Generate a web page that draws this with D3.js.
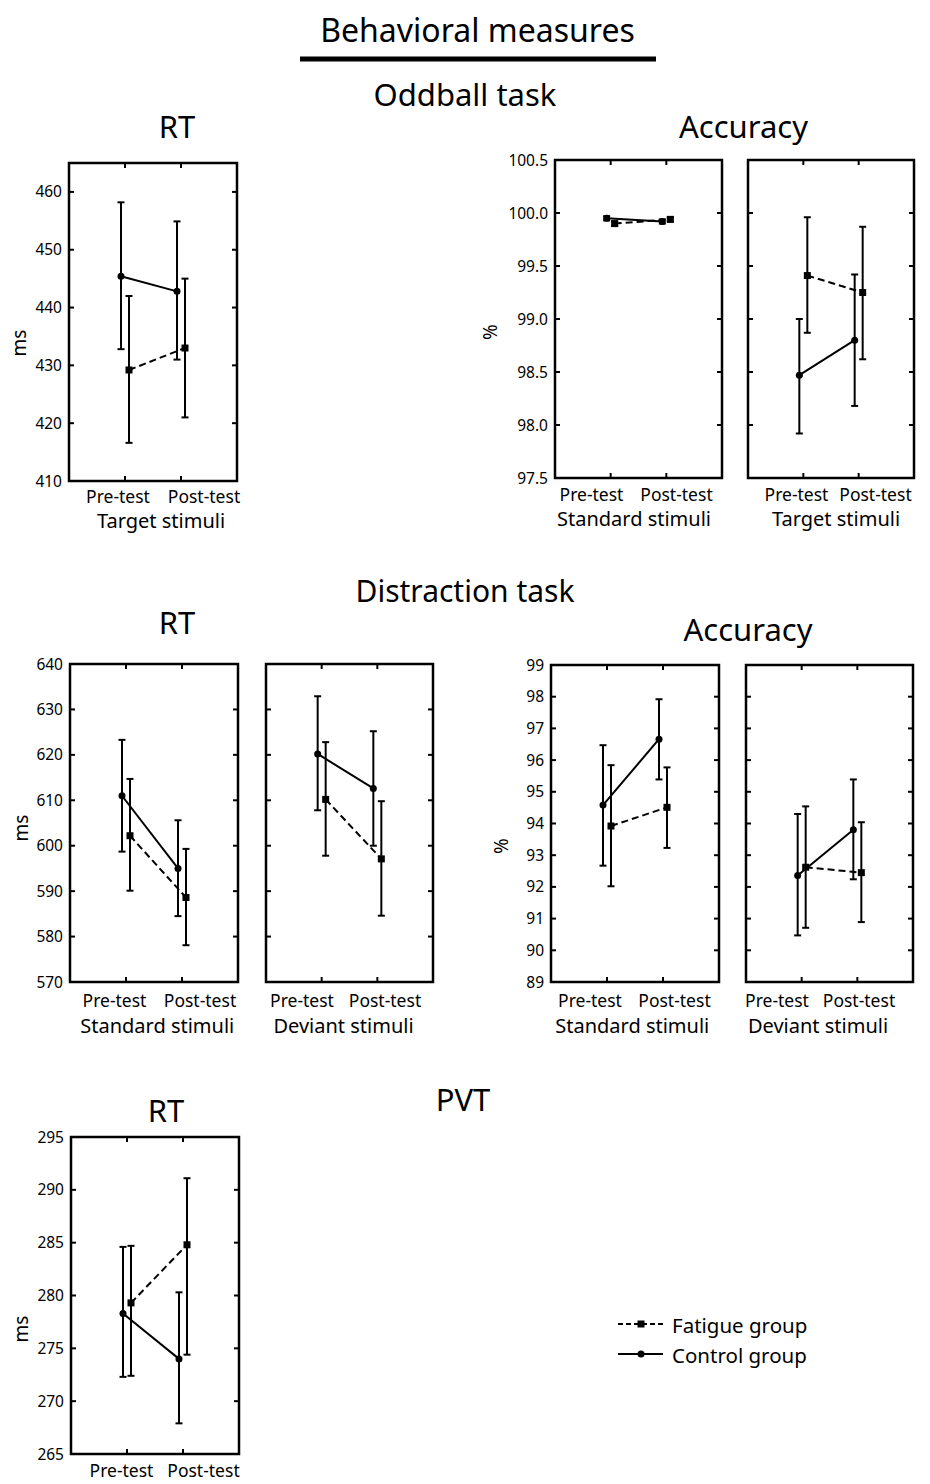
<!DOCTYPE html>
<html>
<head>
<meta charset="utf-8">
<script src="https://cdn.jsdelivr.net/npm/d3@7"></script>
<style>
  body { margin: 0; background: #fff; }
  text { font-family: "Noto Sans", sans-serif; fill: #000; }
</style>
</head>
<body>
<script>
const conditions = ["Pre-test", "Post-test"];
const groupNames = ["Fatigue group", "Control group"];

// each entry: [mean, lower bar, upper bar] for Pre-test then Post-test
const oddRtTargetFatigue = [[429.2, 416.6, 442.0], [433.0, 421.0, 445.0]];
const oddRtTargetControl = [[445.4, 432.8, 458.2], [442.8, 431.0, 454.9]];
const oddAccStandardFatigue = [[99.90, 99.88, 99.92], [99.94, 99.92, 99.96]];
const oddAccStandardControl = [[99.95, 99.93, 99.97], [99.92, 99.90, 99.94]];
const oddAccTargetFatigue = [[99.41, 98.87, 99.96], [99.25, 98.62, 99.87]];
const oddAccTargetControl = [[98.47, 97.92, 99.00], [98.80, 98.18, 99.42]];
const disRtStandardFatigue = [[602.2, 590.1, 614.7], [588.6, 578.1, 599.3]];
const disRtStandardControl = [[611.0, 598.7, 623.3], [595.0, 584.5, 605.6]];
const disRtDeviantFatigue = [[610.2, 597.8, 622.8], [597.1, 584.6, 609.8]];
const disRtDeviantControl = [[620.2, 607.8, 632.9], [612.6, 600.0, 625.2]];
const disAccStandardFatigue = [[93.92, 92.02, 95.84], [94.51, 93.23, 95.77]];
const disAccStandardControl = [[94.58, 92.67, 96.47], [96.66, 95.39, 97.92]];
const disAccDeviantFatigue = [[92.62, 90.71, 94.54], [92.45, 90.89, 94.04]];
const disAccDeviantControl = [[92.36, 90.47, 94.30], [93.80, 92.24, 95.39]];
const pvtRtFatigue = [[279.3, 272.4, 284.7], [284.8, 274.4, 291.1]];
const pvtRtControl = [[278.3, 272.3, 284.6], [274.0, 267.9, 280.3]];

const oddRtDomain = [410, 465];
const oddRtTicks = [410, 420, 430, 440, 450, 460];
const oddAccDomain = [97.5, 100.5];
const oddAccTicks = [97.5, 98.0, 98.5, 99.0, 99.5, 100.0, 100.5];
const disRtDomain = [570, 640];
const disRtTicks = [570, 580, 590, 600, 610, 620, 630, 640];
const disAccDomain = [89, 99];
const disAccTicks = [89, 90, 91, 92, 93, 94, 95, 96, 97, 98, 99];
const pvtRtDomain = [265, 295];
const pvtRtTicks = [265, 270, 275, 280, 285, 290, 295];

const W = 930, H = 1484;
const svg = d3.select("body").append("svg")
  .attr("width", W)
  .attr("height", H);

const fInt = d3.format("d"), fDec = d3.format(".1f");

const panels = [
  {x: 69, y: 163, w: 168, h: 318, domain: oddRtDomain, ticks: oddRtTicks, fmt: fInt,
   fatigue: oddRtTargetFatigue, control: oddRtTargetControl, labels: true,
   name: "Target stimuli", lx: [49, 135], ty: 22, gy: 47, unit: "ms", ux: 19, uy: 343},
  {x: 555, y: 160, w: 167, h: 318, domain: oddAccDomain, ticks: oddAccTicks, fmt: fDec,
   fatigue: oddAccStandardFatigue, control: oddAccStandardControl, labels: true,
   name: "Standard stimuli", lx: [36.5, 121.5], ty: 23, gy: 48, unit: "%", ux: 490, uy: 332},
  {x: 748, y: 160, w: 166, h: 318, domain: oddAccDomain, ticks: oddAccTicks, fmt: fDec,
   fatigue: oddAccTargetFatigue, control: oddAccTargetControl, labels: false,
   name: "Target stimuli", lx: [48.5, 127.5], ty: 23, gy: 48},
  {x: 70, y: 664, w: 168, h: 318, domain: disRtDomain, ticks: disRtTicks, fmt: fInt,
   fatigue: disRtStandardFatigue, control: disRtStandardControl, labels: true,
   name: "Standard stimuli", lx: [44.5, 130], ty: 24.5, gy: 51, unit: "ms", ux: 21, uy: 828},
  {x: 266, y: 664, w: 167, h: 318, domain: disRtDomain, ticks: disRtTicks, fmt: fInt,
   fatigue: disRtDeviantFatigue, control: disRtDeviantControl, labels: false,
   name: "Deviant stimuli", lx: [36, 119], ty: 24.5, gy: 51},
  {x: 551, y: 665, w: 168, h: 317, domain: disAccDomain, ticks: disAccTicks, fmt: fInt,
   fatigue: disAccStandardFatigue, control: disAccStandardControl, labels: true,
   name: "Standard stimuli", lx: [39, 123.5], ty: 24.5, gy: 51, unit: "%", ux: 501, uy: 846},
  {x: 746, y: 665, w: 167, h: 317, domain: disAccDomain, ticks: disAccTicks, fmt: fInt,
   fatigue: disAccDeviantFatigue, control: disAccDeviantControl, labels: false,
   name: "Deviant stimuli", lx: [31, 113], ty: 24.5, gy: 51},
  {x: 71, y: 1137, w: 168, h: 317, domain: pvtRtDomain, ticks: pvtRtTicks, fmt: fInt,
   fatigue: pvtRtFatigue, control: pvtRtControl, labels: true,
   name: null, lx: [50.5, 132.5], ty: 23, gy: 0, unit: "ms", ux: 21, uy: 1329}
];

const offset = 4;   // horizontal shift of the two groups around each tick
const cap = 3.5;
const tickLen = 5;

function drawPanel(p) {
  const g = svg.append("g");
  const x = d3.scalePoint().domain(conditions).range([p.x, p.x + p.w]).padding(1);
  const y = d3.scaleLinear().domain(p.domain).range([p.y + p.h, p.y]);

  // inner ticks on all four sides
  p.ticks.forEach(t => {
    g.append("line").attr("x1", p.x).attr("x2", p.x + tickLen)
      .attr("y1", y(t)).attr("y2", y(t));
    g.append("line").attr("x1", p.x + p.w).attr("x2", p.x + p.w - tickLen)
      .attr("y1", y(t)).attr("y2", y(t));
  });
  conditions.forEach(c => {
    g.append("line").attr("x1", x(c)).attr("x2", x(c))
      .attr("y1", p.y).attr("y2", p.y + tickLen);
    g.append("line").attr("x1", x(c)).attr("x2", x(c))
      .attr("y1", p.y + p.h).attr("y2", p.y + p.h - tickLen);
  });
  g.selectAll("line").attr("stroke", "#000").attr("stroke-width", 2);

  g.append("rect")
    .attr("x", p.x).attr("y", p.y)
    .attr("width", p.w).attr("height", p.h)
    .attr("fill", "none").attr("stroke", "#000").attr("stroke-width", 2.5);

  if (p.labels) {
    g.selectAll(".yl").data(p.ticks).enter().append("text")
      .attr("x", p.x - 7).attr("y", d => y(d))
      .attr("dy", "0.36em")
      .attr("text-anchor", "end")
      .attr("font-size", 15.5)
      .text(d => p.fmt(d));
    g.append("text")
      .attr("transform", `translate(${p.ux},${p.uy}) rotate(-90)`)
      .attr("text-anchor", "middle").attr("dy", "0.35em")
      .attr("font-size", 19)
      .text(p.unit);
  }

  conditions.forEach((c, i) => {
    g.append("text")
      .attr("x", p.x + p.lx[i]).attr("y", p.y + p.h + p.ty)
      .attr("text-anchor", "middle").attr("font-size", 17.5)
      .text(c);
  });
  if (p.name) {
    g.append("text")
      .attr("x", p.x + (p.lx[0] + p.lx[1]) / 2).attr("y", p.y + p.h + p.gy)
      .attr("text-anchor", "middle").attr("font-size", 20)
      .text(p.name);
  }

  const series = [
    {vals: p.fatigue, dx: offset, dash: "7,4", mark: "square"},
    {vals: p.control, dx: -offset, dash: null, mark: "circle"}
  ];
  const line = d3.line()
    .x((d, i) => x(conditions[i]))
    .y(d => y(d[0]));

  series.forEach(s => {
    g.append("path")
      .datum(s.vals)
      .attr("d", line.x((d, i) => x(conditions[i]) + s.dx))
      .attr("fill", "none").attr("stroke", "#000").attr("stroke-width", 2)
      .attr("stroke-dasharray", s.dash);

    const bars = g.selectAll(null).data(s.vals).enter().append("g");
    bars.append("line")
      .attr("x1", (d, i) => x(conditions[i]) + s.dx)
      .attr("x2", (d, i) => x(conditions[i]) + s.dx)
      .attr("y1", d => y(d[1])).attr("y2", d => y(d[2]));
    bars.append("line")
      .attr("x1", (d, i) => x(conditions[i]) + s.dx - cap)
      .attr("x2", (d, i) => x(conditions[i]) + s.dx + cap)
      .attr("y1", d => y(d[1])).attr("y2", d => y(d[1]));
    bars.append("line")
      .attr("x1", (d, i) => x(conditions[i]) + s.dx - cap)
      .attr("x2", (d, i) => x(conditions[i]) + s.dx + cap)
      .attr("y1", d => y(d[2])).attr("y2", d => y(d[2]));
    bars.selectAll("line").attr("stroke", "#000").attr("stroke-width", 2);

    if (s.mark === "circle") {
      g.selectAll(null).data(s.vals).enter().append("circle")
        .attr("cx", (d, i) => x(conditions[i]) + s.dx)
        .attr("cy", d => y(d[0]))
        .attr("r", 3.5).attr("fill", "#000");
    } else {
      g.selectAll(null).data(s.vals).enter().append("rect")
        .attr("x", (d, i) => x(conditions[i]) + s.dx - 3.5)
        .attr("y", d => y(d[0]) - 3.5)
        .attr("width", 7).attr("height", 7).attr("fill", "#000");
    }
  });
}

panels.forEach(drawPanel);

// headings
function heading(txt, x, y, size) {
  svg.append("text").attr("x", x).attr("y", y)
    .attr("text-anchor", "middle").attr("font-size", size).text(txt);
}
heading("Behavioral measures", 477.5, 42, 32);
svg.append("rect").attr("x", 300).attr("y", 56.5).attr("width", 356).attr("height", 5).attr("fill", "#000");
heading("Oddball task", 465, 106, 31);
heading("RT", 177, 138, 31);
heading("Accuracy", 743.5, 138, 31);
heading("Distraction task", 465, 602, 30);
heading("RT", 177, 634, 31);
heading("Accuracy", 748, 641, 31);
heading("PVT", 463, 1111, 31);
heading("RT", 166, 1122, 31);

// legend
const legend = svg.append("g");
groupNames.forEach((name, i) => {
  const ly = 1324 + i * 30;
  legend.append("line")
    .attr("x1", 618).attr("x2", 663).attr("y1", ly).attr("y2", ly)
    .attr("stroke", "#000").attr("stroke-width", 2)
    .attr("stroke-dasharray", i === 0 ? "5,3" : null);
  if (i === 0) {
    legend.append("rect").attr("x", 637.5).attr("y", ly - 3.5)
      .attr("width", 7).attr("height", 7).attr("fill", "#000");
  } else {
    legend.append("circle").attr("cx", 641).attr("cy", ly).attr("r", 3.5).attr("fill", "#000");
  }
  legend.append("text")
    .attr("x", 672).attr("y", ly + 9)
    .attr("font-size", 20.5)
    .text(name);
});
</script>
</body>
</html>
